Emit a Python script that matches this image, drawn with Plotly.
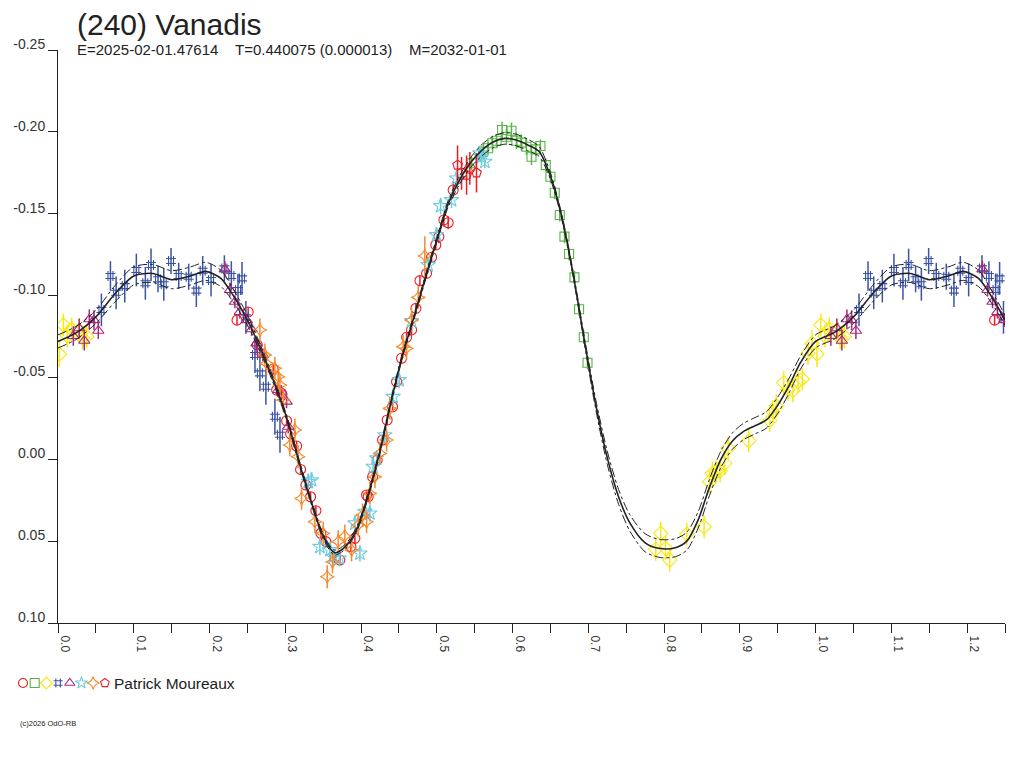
import plotly.graph_objects as go

# ---------------- data (phase, magnitude, error) ----------------
# fitted curve (phase 0..1)
curve_phase = [0.000, 0.025, 0.050, 0.075, 0.100, 0.125, 0.150, 0.175, 0.195, 0.215,
               0.230, 0.250, 0.275, 0.300, 0.320, 0.335, 0.350, 0.365, 0.380, 0.395,
               0.410, 0.425, 0.440, 0.455, 0.470, 0.485, 0.500, 0.515, 0.530, 0.545,
               0.560, 0.575, 0.590, 0.605, 0.620, 0.635, 0.650, 0.665, 0.680, 0.695,
               0.710, 0.725, 0.740, 0.755, 0.775, 0.795, 0.815, 0.830, 0.845, 0.860,
               0.875, 0.890, 0.905, 0.920, 0.935, 0.950, 0.965, 0.980, 1.000]
curve_mag = [-0.0720, -0.0775, -0.0870, -0.1010, -0.1120, -0.1135, -0.1097, -0.1120, -0.1148, -0.1105,
             -0.1010, -0.0850, -0.0590, -0.0280, 0.0045, 0.0270, 0.0470, 0.0570, 0.0530, 0.0420,
             0.0210, -0.0050, -0.0360, -0.0640, -0.0870, -0.1110, -0.1340, -0.1560, -0.1706, -0.1815,
             -0.1890, -0.1940, -0.1960, -0.1950, -0.1920, -0.1880, -0.1730, -0.1480, -0.1130, -0.0720,
             -0.0330, -0.0010, 0.0230, 0.0390, 0.0510, 0.0545, 0.0540, 0.0500, 0.0370, 0.0170,
             0.0000, -0.0110, -0.0170, -0.0205, -0.0240, -0.0330, -0.0450, -0.0590, -0.0720]
curve_upper = [-0.0760, -0.0815, -0.0910, -0.1060, -0.1175, -0.1190, -0.1152, -0.1175, -0.1203, -0.1155,
               -0.1050, -0.0880, -0.0610, -0.0295, 0.0030, 0.0255, 0.0455, 0.0555, 0.0515, 0.0405,
               0.0195, -0.0065, -0.0375, -0.0655, -0.0885, -0.1125, -0.1355, -0.1580, -0.1731, -0.1845,
               -0.1925, -0.1975, -0.1995, -0.1985, -0.1955, -0.1910, -0.1750, -0.1495, -0.1145, -0.0740,
               -0.0360, -0.0050, 0.0185, 0.0340, 0.0455, 0.0490, 0.0485, 0.0445, 0.0320, 0.0120,
               -0.0050, -0.0160, -0.0220, -0.0255, -0.0290, -0.0380, -0.0495, -0.0630, -0.0760]
curve_lower = [-0.0680, -0.0735, -0.0830, -0.0960, -0.1065, -0.1080, -0.1042, -0.1065, -0.1093, -0.1055,
               -0.0970, -0.0820, -0.0570, -0.0265, 0.0060, 0.0285, 0.0485, 0.0585, 0.0545, 0.0435,
               0.0225, -0.0035, -0.0345, -0.0625, -0.0855, -0.1095, -0.1325, -0.1540, -0.1681, -0.1785,
               -0.1855, -0.1905, -0.1925, -0.1915, -0.1885, -0.1850, -0.1710, -0.1465, -0.1115, -0.0700,
               -0.0300, 0.0030, 0.0275, 0.0440, 0.0565, 0.0600, 0.0595, 0.0555, 0.0420, 0.0220,
               0.0050, -0.0060, -0.0120, -0.0155, -0.0190, -0.0280, -0.0405, -0.0550, -0.0680]

# session 1: red circles
s1_phase = [0.2363, 0.2510, 0.2630, 0.2840, 0.2886, 0.2950, 0.3017, 0.3070, 0.3150, 0.3202,
            0.3272, 0.3334, 0.3404, 0.3470, 0.3536, 0.3655, 0.3720, 0.3866, 0.3919, 0.4073,
            0.4094, 0.4152, 0.4213, 0.4284, 0.4345, 0.4416, 0.4469, 0.4535, 0.4601, 0.4667,
            0.4724, 0.4777, 0.4865, 0.4931, 0.4987, 0.5027, 0.5093, 0.5150, 0.5216, 0.5327, 0.5436]
s1_mag = [-0.0850, -0.0900, -0.0698, -0.0550, -0.0423, -0.0403, -0.0235, -0.0155, -0.0081, 0.0062,
          0.0157, 0.0229, 0.0314, 0.0452, 0.0503, 0.0599, 0.0615, 0.0534, 0.0483, 0.0218,
          0.0229, 0.0107, 0.0005, -0.0118, -0.0240, -0.0321, -0.0474, -0.0617, -0.0745, -0.0790,
          -0.0922, -0.1091, -0.1136, -0.1234, -0.1309, -0.1360, -0.1462, -0.1445, -0.1645, -0.1747, -0.1777]
s1_err = [0.003] * 35 + [0.004, 0.004, 0.004, 0.005, 0.010, 0.010]

# session 2: green squares
s2_phase = [0.5458, 0.5612, 0.5678, 0.5735, 0.5788, 0.5862, 0.5920, 0.5986, 0.6051, 0.6117,
            0.6183, 0.6250, 0.6306, 0.6368, 0.6438, 0.6500, 0.6557, 0.6623, 0.6685, 0.6746,
            0.6817, 0.6878, 0.6940, 0.6989]
s2_mag = [-0.1808, -0.1879, -0.1900, -0.1930, -0.1946, -0.2011, -0.1970, -0.2007, -0.1946, -0.1934,
          -0.1909, -0.1848, -0.1893, -0.1914, -0.1797, -0.1726, -0.1628, -0.1492, -0.1360, -0.1254,
          -0.1111, -0.0916, -0.0745, -0.0590]
s2_err = [0.004] * 5 + [0.005] * 7 + [0.004] * 12

# session 3: yellow diamonds
s3_phase = [0.0018, 0.0070, 0.0123, 0.0180, 0.0280, 0.0325, 0.0380,
            0.7890, 0.7956, 0.8020, 0.8075, 0.8300, 0.8528, 0.8600, 0.8637, 0.8690, 0.8740,
            0.8800, 0.8845, 0.9118, 0.9394, 0.9438, 0.9480, 0.9580, 0.9637, 0.9700, 0.9768,
            0.9825, 0.9900, 0.9952]
s3_mag = [-0.0643, -0.0820, -0.0753, -0.0794, -0.0790, -0.0740, -0.0749,
          0.0550, 0.0452, 0.0544, 0.0615, 0.0457, 0.0412, 0.0137, 0.0086, 0.0076, 0.0070,
          0.0025, -0.0067, -0.0113, -0.0236, -0.0290, -0.0325, -0.0468, -0.0427, -0.0419, -0.0474,
          -0.0490, -0.0647, -0.0708]
s3_err = [0.008] + [0.007] * 28 + [0.008]

# session 4: blue hashes
s4_phase = [0.0573, 0.0692, 0.0767, 0.0881, 0.1034, 0.1153, 0.1228, 0.1320, 0.1396, 0.1492,
            0.1593, 0.1725, 0.1826, 0.1910, 0.2020, 0.2196, 0.2288, 0.2376, 0.2429, 0.2480,
            0.2600, 0.2665, 0.2744, 0.2863, 0.2930]
s4_mag = [-0.0912, -0.1120, -0.1017, -0.1058, -0.1156, -0.1075, -0.1187, -0.1100, -0.1069, -0.1211,
          -0.1120, -0.1115, -0.1030, -0.1152, -0.1095, -0.1166, -0.1120, -0.1034, -0.1105, -0.0867,
          -0.0637, -0.0525, -0.0443, -0.0260, -0.0150]
s4_err = [0.010, 0.009, 0.010, 0.010, 0.010, 0.010, 0.010, 0.008, 0.010, 0.008,
          0.008, 0.008, 0.010, 0.009, 0.010, 0.008, 0.009, 0.010, 0.010, 0.010,
          0.011, 0.011, 0.011, 0.011, 0.011]

# session 5: purple triangles
s5_phase = [0.0202, 0.0280, 0.0347, 0.0413, 0.0475, 0.0532,
            0.2203, 0.2270, 0.2335, 0.2400, 0.2490, 0.2556, 0.2620, 0.2665, 0.2705, 0.2907,
            0.2950, 0.3017, 0.3039]
s5_mag = [-0.0753, -0.0800, -0.0724, -0.0855, -0.0850, -0.0785,
          -0.1160, -0.1034, -0.0962, -0.0900, -0.0850, -0.0794, -0.0708, -0.0657, -0.0637, -0.0423,
          -0.0413, -0.0352, -0.0199]
s5_err = [0.006] * 5 + [0.005] * 2 + [0.004] * 12

# session 6: cyan stars
s6_phase = [0.3303, 0.3347, 0.3457, 0.3589, 0.3633, 0.3712, 0.3919, 0.3985, 0.4050, 0.4117,
            0.4160, 0.4205, 0.4314, 0.4424, 0.4503, 0.4667, 0.4886, 0.4996, 0.5050, 0.5194,
            0.5260, 0.5568, 0.5590, 0.5634]
s6_mag = [0.0137, 0.0127, 0.0534, 0.0554, 0.0595, 0.0605, 0.0391, 0.0575, 0.0320, 0.0330,
          0.0045, -0.0006, -0.0148, -0.0382, -0.0484, -0.0845, -0.1187, -0.1370, -0.1547, -0.1584,
          -0.1716, -0.1869, -0.1848, -0.1818]
s6_err = [0.005] * 21 + [0.004] * 3

# session 7: orange four-point stars
s7_phase = [0.2665, 0.2731, 0.2753, 0.2863, 0.2907, 0.2930, 0.2973, 0.3060, 0.3127, 0.3170,
            0.3215, 0.3390, 0.3500, 0.3554, 0.3624, 0.3698, 0.3786, 0.3875, 0.3962, 0.4020,
            0.4073, 0.4117, 0.4183, 0.4249, 0.4337, 0.4380, 0.4556, 0.4601, 0.4667, 0.4755, 0.4842]
s7_mag = [-0.0790, -0.0637, -0.0586, -0.0556, -0.0504, -0.0454, -0.0362, -0.0087, -0.0179, -0.0016,
          0.0239, 0.0381, 0.0452, 0.0717, 0.0626, 0.0503, 0.0469, 0.0554, 0.0402, 0.0340,
          0.0381, 0.0208, 0.0107, -0.0036, -0.0118, -0.0311, -0.0688, -0.0678, -0.0850, -0.0989, -0.1242]
s7_err = [0.007] * 30 + [0.012]

# session 8: red pentagons
s8_phase = [0.5274, 0.5393, 0.5524]
s8_mag = [-0.1797, -0.1736, -0.1750]
s8_err = [0.012, 0.012, 0.012]

sessions = [
    (s1_phase, s1_mag, s1_err, "circle-open", "#ec1c24", 10),
    (s2_phase, s2_mag, s2_err, "square-open", "#58b447", 9),
    (s3_phase, s3_mag, s3_err, "diamond-open", "#f7e914", 11),
    (s4_phase, s4_mag, s4_err, "hash-open", "#3a53a4", 10),
    (s5_phase, s5_mag, s5_err, "triangle-up-open", "#a6287e", 10),
    (s6_phase, s6_mag, s6_err, "star-open", "#6ccbdf", 11),
    (s7_phase, s7_mag, s7_err, "star-diamond-open", "#f6892c", 10),
    (s8_phase, s8_mag, s8_err, "pentagon-open", "#ec1c24", 10),
]

title = "(240) Vanadis"
subtitle = "E=2025-02-01.47614\u00a0\u00a0\u00a0\u00a0T=0.440075 (0.000013)\u00a0\u00a0\u00a0\u00a0M=2032-01-01"
observer = "Patrick Moureaux"
copyright_txt = "(c)2026 OdO-RB"
x_ticks = [0.0, 0.1, 0.2, 0.3, 0.4, 0.5, 0.6, 0.7, 0.8, 0.9, 1.0, 1.1, 1.2]
y_ticks = [-0.25, -0.20, -0.15, -0.10, -0.05, 0.00, 0.05, 0.10]
WRAP = 0.25  # phases repeated beyond 1.0

# ---------------- layout geometry (screen pixels, page has an 8px body margin) ----------------
OFF = 8
W, H = 1024 - OFF, 768 - OFF
ml, mr, mt, mb = 2, 11, 42, 32
pw, ph = W - ml - mr, H - mt - mb


def px(x):
    return (x - OFF - ml) / pw


def py(y):
    return (H - mb - (y - OFF)) / ph


def wrap(phs, vals):
    p2 = list(phs) + [p + 1 for p in phs if p <= WRAP]
    v2 = list(vals) + [v for p, v in zip(phs, vals) if p <= WRAP]
    return p2, v2


fig = go.Figure()
FONT = "Liberation Sans, Arial, sans-serif"
INK = "#222222"

for phs, mags, errs, sym, col, sz in sessions:
    xp, ym = wrap(phs, mags)
    _, ye = wrap(phs, errs)
    fig.add_trace(go.Scatter(
        x=xp, y=ym, mode="markers",
        marker=dict(symbol=sym, size=sz, color=col, line=dict(width=1.1, color=col)),
        error_y=dict(type="data", array=ye, visible=True, color=col, thickness=1.5, width=0),
        showlegend=False, hoverinfo="skip"))

for arr, dash, wdt in [(curve_upper, "dashdot", 1), (curve_lower, "dashdot", 1), (curve_mag, "solid", 1.6)]:
    xp, ym = wrap(curve_phase[:-1], arr[:-1])
    pairs = sorted(zip(xp, ym))
    fig.add_trace(go.Scatter(
        x=[a for a, _ in pairs], y=[b for _, b in pairs], mode="lines",
        line=dict(color=INK, width=wdt, dash=dash, shape="spline", smoothing=0.8),
        showlegend=False, hoverinfo="skip"))

# legend symbols row
leg_syms = [s[3] for s in sessions]
leg_cols = [s[4] for s in sessions]
fig.add_trace(go.Scatter(
    x=list(range(len(leg_syms))), y=[0] * len(leg_syms), mode="markers",
    marker=dict(symbol=leg_syms, size=9, color=leg_cols, line=dict(width=1.1, color=leg_cols)),
    xaxis="x2", yaxis="y2", showlegend=False, hoverinfo="skip"))

step = 11.7
leg_x0 = 23  # screen x of first legend symbol
x2_start = -((leg_x0 - OFF - ml) / step)
fig.update_layout(
    width=W, height=H, margin=dict(l=ml, r=mr, t=mt, b=mb),
    paper_bgcolor="white", plot_bgcolor="white",
    font=dict(family=FONT, color="#333333"),
    xaxis=dict(domain=[px(58), px(1005)], range=[0, 1.25], anchor="y",
               showgrid=False, zeroline=False, showline=True, linecolor=INK, linewidth=1,
               ticks="outside", ticklen=9, tickcolor=INK, tickwidth=1,
               tickmode="array", tickvals=x_ticks, ticktext=[f"{v:.1f}" for v in x_ticks],
               tickangle=90, tickfont=dict(size=12, color="#333333"), ticklabelshift=7,
               minor=dict(ticks="outside", ticklen=9, tickcolor=INK, tick0=0.05, dtick=0.1)),
    yaxis=dict(domain=[py(623), py(50)], range=[0.10, -0.25], anchor="x",
               showgrid=False, zeroline=False, showline=True, linecolor=INK, linewidth=1,
               ticks="outside", ticklen=9, tickcolor=INK, tickwidth=1,
               tickmode="array", tickvals=y_ticks, ticktext=[f"{v:.2f}" for v in y_ticks],
               tickfont=dict(size=14, color="#333333"), ticklabelshift=6),
    xaxis2=dict(domain=[0, 0.2], range=[x2_start, x2_start + 0.2 * pw / step],
                visible=False, anchor="y2"),
    yaxis2=dict(domain=[py(690), py(676)], range=[-1, 1], visible=False, anchor="x2"),
    annotations=[
        dict(text=title, x=px(75), y=py(6), xref="paper", yref="paper", xanchor="left", yanchor="top",
             showarrow=False, font=dict(size=30, color=INK, family=FONT)),
        dict(text=subtitle, x=px(75), y=py(39), xref="paper", yref="paper", xanchor="left", yanchor="top",
             showarrow=False, font=dict(size=15, color=INK, family=FONT)),
        dict(text=observer, x=px(112), y=py(683), xref="paper", yref="paper", xanchor="left", yanchor="middle",
             showarrow=False, font=dict(size=15.5, color=INK, family=FONT)),
        dict(text=copyright_txt, x=px(18), y=py(723), xref="paper", yref="paper", xanchor="left", yanchor="middle",
             showarrow=False, font=dict(size=7.5, color=INK, family=FONT)),
    ],
)

fig.write_html("out.html")
